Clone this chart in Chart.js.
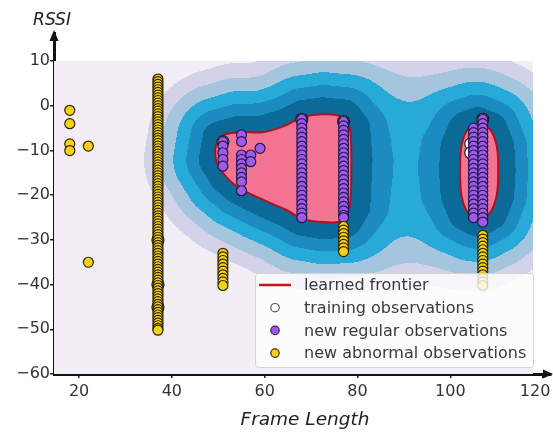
<!DOCTYPE html>
<html>
<head>
<meta charset="utf-8">
<script src="https://cdn.jsdelivr.net/npm/chart.js@4.4.1/dist/chart.umd.min.js"></script>
<style>
  html, body { margin: 0; padding: 0; background: #fff; }
  #wrap { width: 553px; height: 435px; }
</style>
</head>
<body>
<div id="wrap"><canvas id="chart"></canvas></div>
<script>
// ---- values ----
const xTicks = [20, 40, 60, 80, 100, 120];
const yTicks = [-60, -50, -40, -30, -20, -10, 0, 10];

// learned frontier outlines
const frontierLeftX = [78.7, 78.3, 76.8, 72.5, 68.2, 64.7, 59.6, 54.6, 50.3, 49.5, 51.8, 54.6, 59.6, 64.7, 68.2, 72.5, 76.8, 78.3, 78.7];
const frontierLeftY = [-12.1, -4.8, -2.5, -1.9, -2.5, -4.3, -5.9, -5.9, -7.2, -12.1, -16.0, -18.4, -21.0, -23.3, -25.3, -26.0, -25.6, -22.7, -12.1];
const frontierRightX = [102.1, 102.4, 103.8, 106.0, 108.5, 110.0, 110.3, 110.0, 108.5, 106.0, 103.8, 102.4, 102.1];
const frontierRightY = [-14.5, -9.0, -5.2, -4.2, -5.2, -9.0, -14.5, -20.0, -24.0, -25.3, -24.0, -20.0, -14.5];

// training observations (mostly hidden under the new ones)
const trainingX = [37, 37, 37, 104.4, 104.4, 51, 68, 77, 107];
const trainingY = [-30, -40, -45, -8.5, -10.5, -8, -3, -3.5, -3];

// new regular observations
const regularLooseX = [57, 57, 59];
const regularLooseY = [-11, -12.5, -9.5];
const regular51 = [-8, -9, -10.5, -12, -13.5];
const regular55 = [-6.5, -8, -11, -12, -13, -14, -15, -16, -17, -19];
const regular68 = [-3, -4, -5, -6, -7, -8, -9, -10, -11, -12, -13, -14, -15, -16, -17, -18, -19, -20, -21, -22, -23, -24, -25];
const regular77 = [-3.5, -4.5, -5.5, -6.5, -7.5, -8.5, -9.5, -10.5, -11.5, -12.5, -13.5, -14.5, -15.5, -16.5, -17.5, -18.5, -19.5, -20.5, -21.5, -22.5, -23.5, -24.5, -25];
const regular105 = [-5, -6, -7, -8, -9, -10, -11, -12, -13, -14, -15, -16, -17, -18, -19, -20, -21, -22, -23, -24, -25];
const regular107 = [-3, -4, -5, -6, -7, -8, -9, -10, -11, -12, -13, -14, -15, -16, -17, -18, -19, -20, -21, -22, -23, -24, -25, -26];

// new abnormal observations
const abnormalLooseX = [18, 18, 18, 18, 22, 22];
const abnormalLooseY = [-1, -4, -8.5, -10, -9, -35];
const abnormal37 = [6, 5.4, 4.8, 4.2, 3.6, 3, 2.4, 1.8, 1.2, 0.6, 0, -0.6, -1.2, -1.8, -2.4, -3, -3.6, -4.2, -4.8, -5.4, -6,
  -6.6, -7.2, -7.8, -8.4, -9, -9.6, -10.2, -10.8, -11.4, -12, -12.6, -13.2, -13.8, -14.4, -15, -15.6, -16.2, -16.8, -17.4, -18,
  -18.6, -19.2, -19.8, -20.4, -21, -21.6, -22.2, -22.8, -23.4, -24, -24.6, -25.2, -25.8, -26.4, -27, -27.6, -28.2, -28.8, -29.4, -30,
  -30.6, -31.2, -31.8, -32.4, -33, -33.6, -34.2, -34.8, -35.4, -36, -36.6, -37.2, -37.8, -38.4, -39, -39.6, -40.2, -40.8, -41.4, -42,
  -42.6, -43.2, -43.8, -44.4, -45, -45.6, -46.2, -46.8, -47.4, -48, -48.6, -49.2, -49.8, -50.2];
const abnormal51 = [-33, -33.8, -34.6, -35.4, -36.2, -37, -37.8, -38.6, -39.4, -40.2];
const abnormal77 = [-27, -27.8, -28.6, -29.4, -30.2, -31, -31.8, -32.6];
const abnormal107 = [-29, -29.8, -30.6, -31.4, -32.2, -33, -33.8, -34.6, -35.4, -36.2, -37, -37.8, -38.6, -39.4, -40.2];

// ---- styling ----
const bandColors = ['#f3eef6', '#d2d3e8', '#a5c5de', '#27aad8', '#1b8bc1', '#0b6a98'];
const bandReach = [15.5, 12.2, 9.2, 6.4, 3.7];   // distance from frontier where each band starts
const kernelLen = 7;
const field = { xMin: 14.6, xMax: 117.8, yMin: -60, yMax: 10 };

const pairs = (xs, ys) => xs.map((x, i) => ({ x: x, y: ys[i] }));
const column = (x, ys) => ys.map(y => ({ x: x, y: y }));
const minus = v => (v < 0 ? '\u2212' + Math.abs(v) : String(v));

function segDist(px, py, ax, ay, bx, by) {
  const dx = bx - ax, dy = by - ay;
  let t = ((px - ax) * dx + (py - ay) * dy) / (dx * dx + dy * dy || 1);
  t = Math.max(0, Math.min(1, t));
  const ex = ax + t * dx - px, ey = ay + t * dy - py;
  return Math.sqrt(ex * ex + ey * ey);
}

function polyDist(px, py, xs, ys) {
  let inside = false, best = Infinity;
  for (let i = 0, j = xs.length - 1; i < xs.length; j = i++) {
    const xi = xs[i], yi = ys[i], xj = xs[j], yj = ys[j];
    if ((yi > py) !== (yj > py) && px < (xj - xi) * (py - yi) / (yj - yi) + xi) inside = !inside;
    best = Math.min(best, segDist(px, py, xi, yi, xj, yj));
  }
  return inside ? 0 : best;
}

// filled contour bands behind the points
const fieldPlugin = {
  id: 'field',
  beforeDatasetsDraw(chart) {
    const ctx = chart.ctx, x = chart.scales.x, y = chart.scales.y;
    const x0 = Math.round(x.getPixelForValue(field.xMin));
    const x1 = Math.round(x.getPixelForValue(field.xMax));
    const y0 = Math.round(y.getPixelForValue(field.yMax));
    const y1 = Math.round(y.getPixelForValue(field.yMin));
    const w = x1 - x0, h = y1 - y0;
    const img = ctx.createImageData(w, h);
    const cuts = bandReach.map(d => Math.exp(-d / kernelLen));
    const rgb = bandColors.map(c => [parseInt(c.slice(1, 3), 16), parseInt(c.slice(3, 5), 16), parseInt(c.slice(5, 7), 16)]);
    const blobs = [[frontierLeftX, frontierLeftY], [frontierRightX, frontierRightY]];
    const vxs = [], vys = [];
    for (let i = 0; i < w; i++) vxs.push(x.getValueForPixel(x0 + i + 0.5));
    for (let j = 0; j < h; j++) vys.push(y.getValueForPixel(y0 + j + 0.5));
    for (let j = 0; j < h; j++) {
      for (let i = 0; i < w; i++) {
        let s = 0;
        blobs.forEach(b => { s += Math.exp(-polyDist(vxs[i], vys[j], b[0], b[1]) / kernelLen); });
        let band = 0;
        while (band < cuts.length && s >= cuts[band]) band++;
        const c = rgb[band], k = (j * w + i) * 4;
        img.data[k] = c[0]; img.data[k + 1] = c[1]; img.data[k + 2] = c[2]; img.data[k + 3] = 255;
      }
    }
    ctx.putImageData(img, x0, y0);
  }
};

// axis arrows, axis titles and the legend box
const decorPlugin = {
  id: 'decor',
  afterDraw(chart) {
    const ctx = chart.ctx, a = chart.chartArea;
    ctx.save();
    ctx.fillStyle = '#111';
    ctx.beginPath();
    ctx.moveTo(a.left, a.top - 3); ctx.lineTo(a.left - 4.5, a.top + 8); ctx.lineTo(a.left + 4.5, a.top + 8);
    ctx.closePath(); ctx.fill();
    ctx.beginPath();
    ctx.moveTo(553, a.bottom); ctx.lineTo(543, a.bottom - 4.5); ctx.lineTo(543, a.bottom + 4.5);
    ctx.closePath(); ctx.fill();

    ctx.fillStyle = '#222';
    ctx.textAlign = 'center';
    ctx.textBaseline = 'alphabetic';
    ctx.font = 'italic 17px "DejaVu Sans"';
    ctx.fillText('RSSI', 52, 25);
    ctx.font = 'italic 18.5px "DejaVu Sans"';
    ctx.fillText('Frame Length', 305, 425);

    // legend
    const lx = 255, ly = 273, lw = 278, lh = 94;
    ctx.fillStyle = 'rgba(255,255,255,0.8)';
    ctx.strokeStyle = '#d4d4d4';
    ctx.lineWidth = 1;
    ctx.beginPath();
    ctx.roundRect(lx + 0.5, ly + 0.5, lw, lh, 3);
    ctx.fill(); ctx.stroke();
    const rows = [
      { label: 'learned frontier', kind: 'line' },
      { label: 'training observations', fill: '#ffffff', edge: '#555' },
      { label: 'new regular observations', fill: '#a259e6', edge: '#2a1f55' },
      { label: 'new abnormal observations', fill: '#f6d01a', edge: '#3a3000' }
    ];
    ctx.font = '16px "DejaVu Sans"';
    ctx.textAlign = 'left';
    ctx.textBaseline = 'middle';
    rows.forEach((r, i) => {
      const cy = 285 + i * 22.7;
      if (r.kind === 'line') {
        ctx.strokeStyle = '#c0141f'; ctx.lineWidth = 2.5;
        ctx.beginPath(); ctx.moveTo(259, cy); ctx.lineTo(291, cy); ctx.stroke();
      } else {
        ctx.fillStyle = r.fill; ctx.strokeStyle = r.edge; ctx.lineWidth = 1.2;
        ctx.beginPath(); ctx.arc(275, cy, 4.2, 0, Math.PI * 2); ctx.fill(); ctx.stroke();
      }
      ctx.fillStyle = '#3a3a3a';
      ctx.fillText(r.label, 304, cy + 1);
    });
    ctx.restore();
  }
};

const regularPts = [].concat(
  column(51, regular51), column(55, regular55), pairs(regularLooseX, regularLooseY),
  column(68, regular68), column(77, regular77), column(105, regular105), column(107, regular107)
);
const abnormalPts = [].concat(
  pairs(abnormalLooseX, abnormalLooseY), column(37, abnormal37), column(51, abnormal51),
  column(77, abnormal77), column(107, abnormal107)
);

const frontierStyle = {
  showLine: true, fill: 'shape', tension: 0.4, pointRadius: 0,
  backgroundColor: '#f37393', borderColor: '#b0121d', borderWidth: 2, order: 10
};

new Chart(document.getElementById('chart'), {
  type: 'scatter',
  data: {
    datasets: [
      Object.assign({ label: 'learned frontier', data: pairs(frontierLeftX, frontierLeftY) }, frontierStyle),
      Object.assign({ label: 'learned frontier 2', data: pairs(frontierRightX, frontierRightY) }, frontierStyle),
      {
        label: 'training observations', data: pairs(trainingX, trainingY),
        pointRadius: 6, backgroundColor: '#ffffff', borderColor: '#1a1a1a', borderWidth: 1.2, order: 3
      },
      {
        label: 'new regular observations', data: regularPts,
        pointRadius: 5, backgroundColor: '#a259e6', borderColor: '#1f1a4a', borderWidth: 1.2, order: 2
      },
      {
        label: 'new abnormal observations', data: abnormalPts,
        pointRadius: 5, backgroundColor: '#f6d01a', borderColor: '#2e2600', borderWidth: 1.2, order: 1
      }
    ]
  },
  options: {
    responsive: true,
    maintainAspectRatio: false,
    animation: false,
    events: [],
    layout: { autoPadding: false, padding: { top: 33, right: 2, left: 0, bottom: 0 } },
    plugins: { legend: { display: false }, tooltip: { enabled: false } },
    scales: {
      x: {
        type: 'linear', min: 14.6, max: 121.7, z: 1,
        afterBuildTicks: s => { s.ticks = xTicks.map(v => ({ value: v })); },
        afterFit: s => { s.height = 61; s.paddingLeft = 0; s.paddingRight = 0; },
        border: { display: true, color: '#111', width: 3 },
        grid: { display: true, drawOnChartArea: false, drawTicks: true, tickLength: 4, color: '#222', lineWidth: 1.5 },
        ticks: {
          autoSkip: false, maxRotation: 0, padding: 4, color: '#333',
          font: { family: 'DejaVu Sans', size: 16 },
          callback: v => (v === 120 ? '120\u2002\u2002' : minus(v))
        }
      },
      y: {
        type: 'linear', min: -60, max: 16.3, z: 1,
        afterBuildTicks: s => { s.ticks = yTicks.map(v => ({ value: v })); },
        afterFit: s => { s.width = 54; s.paddingTop = 0; s.paddingBottom = 0; },
        border: { display: true, color: '#111', width: 3 },
        grid: { display: true, drawOnChartArea: false, drawTicks: true, tickLength: 4, color: '#222', lineWidth: 1.5 },
        ticks: {
          autoSkip: false, padding: 0, color: '#333',
          font: { family: 'DejaVu Sans', size: 16 },
          callback: v => minus(v)
        }
      }
    }
  },
  plugins: [fieldPlugin, decorPlugin]
});
</script>
</body>
</html>
